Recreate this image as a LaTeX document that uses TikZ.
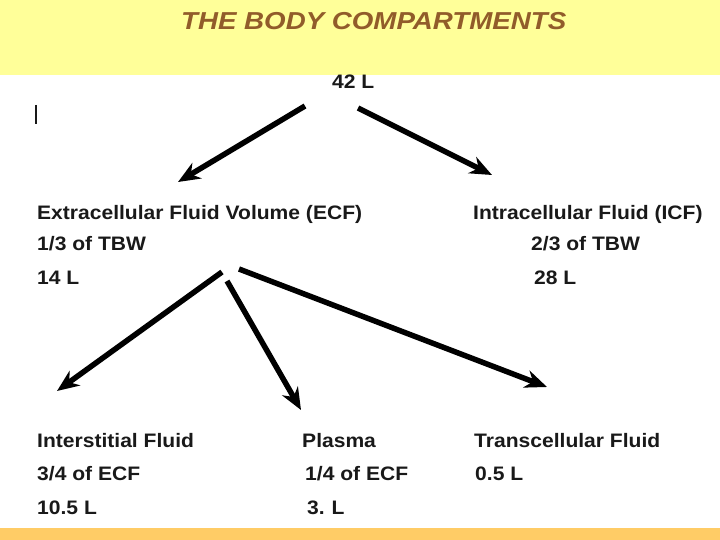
\documentclass[tikz,border=0pt]{standalone}
\usepackage{fontspec}
\setmainfont{Liberation Sans}[FakeStretch=1.08]
\newfontfamily\titlefont{Liberation Sans}[FakeStretch=1.13]
\usetikzlibrary{arrows.meta}
\definecolor{bandyellow}{RGB}{255,255,153}
\definecolor{barorange}{RGB}{255,204,102}
\definecolor{titlebrown}{RGB}{145,92,42}
\definecolor{inkgray}{RGB}{25,25,25}
\tikzset{
  lbl/.style={anchor=base west, inner sep=0pt, text=inkgray,
    font=\fontsize{19.5}{22}\selectfont\bfseries},
  bigarrow/.style={line width=5.5pt, draw=black,
    -{Stealth[length=22pt,width=18pt,inset=7pt]}},
}
\begin{document}
\begin{tikzpicture}[x=1pt,y=-1pt]
\useasboundingbox (0,0) rectangle (720,540);
\fill[white] (0,0) rectangle (720,540);
\fill[bandyellow] (0,0) rectangle (720,75);
\fill[barorange] (0,528) rectangle (720,540);
\node[anchor=base west, inner sep=0pt, text=titlebrown,
  font=\titlefont\fontsize{24.5}{28}\selectfont\bfseries\itshape] (title) at (181,30) {THE BODY COMPARTMENTS};
% cursor mark
\draw[line width=2.6pt, draw=inkgray] (36,105) -- (36,124);
\node[lbl] (tbw) at (332,89) {42 L};
\node[lbl] (ecf) at (37,219) {Extracellular Fluid Volume (ECF)};
\node[lbl] (ecf2) at (37,251) {1/3 of TBW};
\node[lbl] (ecf3) at (37,284) {14 L};
\node[lbl] (icf) at (473,219) {Intracellular Fluid (ICF)};
\node[lbl] (icf2) at (531,251) {2/3 of TBW};
\node[lbl] (icf3) at (534,284) {28 L};
\node[lbl] (isf) at (37,447) {Interstitial Fluid};
\node[lbl] (isf2) at (37,480) {3/4 of ECF};
\node[lbl] (isf3) at (37,514) {10.5 L};
\node[lbl] (pl) at (302,447) {Plasma};
\node[lbl] (pl2) at (305,480) {1/4 of ECF};
\node[lbl] (pl3) at (307,514) {3.\kern-1pt{} L};
\node[lbl] (tc) at (474,447) {Transcellular Fluid};
\node[lbl] (tc2) at (475,480) {0.5 L};
% arrow end points
\coordinate (a1s) at (305,106);
\coordinate (a1e) at (178,182);
\coordinate (a2s) at (358,108);
\coordinate (a2e) at (492,175);
\coordinate (a3s) at (222,272);
\coordinate (a3e) at (57,391);
\coordinate (a4s) at (227,281);
\coordinate (a4e) at (301,410);
\coordinate (a5s) at (239,269);
\coordinate (a5e) at (547,387);
\draw[bigarrow] (a1s) -- (a1e);
\draw[bigarrow] (a2s) -- (a2e);
\draw[bigarrow] (a3s) -- (a3e);
\draw[bigarrow] (a4s) -- (a4e);
\draw[bigarrow] (a5s) -- (a5e);
\end{tikzpicture}
\end{document}
